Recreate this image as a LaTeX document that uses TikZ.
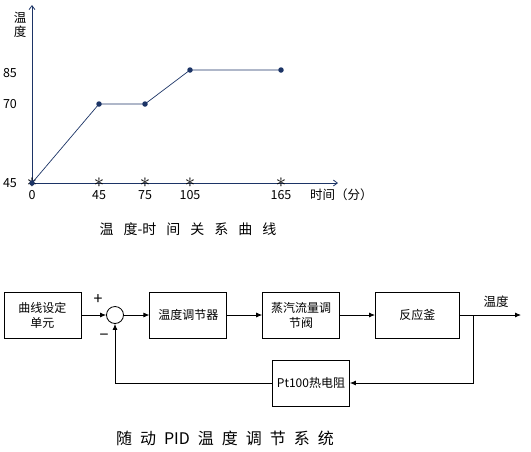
\documentclass[tikz,border=0pt]{standalone}
\usepackage{fontspec}
\setmainfont{Noto Sans CJK SC}
\usepackage{tikz}
\usetikzlibrary{arrows.meta, positioning, calc}
\definecolor{chartblue}{RGB}{28,52,102}

\newcommand{\wgap}{\hspace{10pt}}
\newcommand{\sgap}{\hspace{8pt}}

\begin{document}
\begin{tikzpicture}[
    x=1pt, y=-1pt,
    block/.style={rectangle, draw, line width=0.8pt, minimum width=77pt, minimum height=46pt, align=center, font=\fontsize{12}{15}\selectfont},
    sumnode/.style={circle, draw, line width=0.8pt, minimum size=17pt, inner sep=0pt},
    sig/.style={-{Latex[length=6pt, width=5pt]}, line width=0.8pt},
    axis/.style={-{Straight Barb[length=4pt, width=6pt]}, line width=0.8pt, draw=chartblue},
    curve/.style={line width=0.7pt, draw=chartblue},
    dot/.style={circle, fill=chartblue, inner sep=0pt, minimum size=5.5pt},
    tickmark/.style={font=\fontsize{20.74}{21}\selectfont, text=black, inner sep=0pt},
    lbl/.style={font=\fontsize{12.5}{14}\selectfont, inner sep=0pt}
]
\useasboundingbox (0,0) rectangle (531,451);

% Chart axes
\coordinate (origin) at (32,183);
\draw[axis] (origin) -- (32,5);
\draw[axis] (origin) -- (338,183);

% Ticks on time axis
\node[tickmark] (t0) at (32,183) {$\ast$};
\node[tickmark] (t1) at (99,183) {$\ast$};
\node[tickmark] (t2) at (145,183) {$\ast$};
\node[tickmark] (t3) at (190,183) {$\ast$};
\node[tickmark] (t4) at (281,183) {$\ast$};

% Data points
\node[dot] (p0) at (origin) {};
\node[dot] (p1) at (99,104) {};
\node[dot] (p2) at (145,104) {};
\node[dot] (p3) at (190,70) {};
\node[dot] (p4) at (281,70) {};
\draw[curve] (p0.center) -- (p1.center) -- (p2.center) -- (p3.center) -- (p4.center);

% Axis labels
\node[lbl, align=center] (ylabel) at (20,25) {温\\度};
\node[lbl] (y85) at (10,73) {85};
\node[lbl] (y70) at (10,104) {70};
\node[lbl] (y45) at (10,183) {45};
\node[lbl] (x0) at (32,195) {0};
\node[lbl] (x45) at (99,195) {45};
\node[lbl] (x75) at (145,195) {75};
\node[lbl] (x105) at (190,195) {105};
\node[lbl] (x165) at (281,195) {165};
\node[lbl, anchor=west] (xlabel) at (310,195) {时间（分）};

\node[font=\fontsize{14}{16}\selectfont] (title1) at (188,229) {温\wgap 度-时\wgap 间\wgap 关\wgap 系\wgap 曲\wgap 线};

% Blocks
\node[block] (setunit) at (42.5,315) {曲线设定\\单元};
\node[sumnode] (sum) at (115,315) {};
\node[block, right=68pt of setunit] (ctrl) {温度调节器};
\node[block, right=35pt of ctrl] (valve) {蒸汽流量调\\节阀};
\node[block, right=35pt of valve, minimum width=84pt] (reactor) {反应釜};
\node[block] (sensor) at (311,383) {Pt100热电阻};
\coordinate (branch) at (473,315);
\coordinate (out) at (521,315);

% Signals
\draw[sig] (setunit) -- (sum);
\draw[sig] (sum) -- (ctrl);
\draw[sig] (ctrl) -- (valve);
\draw[sig] (valve) -- (reactor);
\draw[sig] (reactor) -- (out);
\draw[sig] (branch) |- (sensor);
\draw[sig] (sensor) -| (sum);

\node[font=\fontsize{16}{16}\selectfont, inner sep=0pt] (plus) at (98,300) {+};
\node[font=\fontsize{16}{16}\selectfont, inner sep=0pt] (minus) at (104,337) {−};
\node[lbl] (outlbl) at (496,302) {温度};

\node[font=\fontsize{16}{18}\selectfont] (title2) at (225,438) {随\sgap 动\sgap PID\sgap 温\sgap 度\sgap 调\sgap 节\sgap 系\sgap 统};

\end{tikzpicture}
\end{document}
